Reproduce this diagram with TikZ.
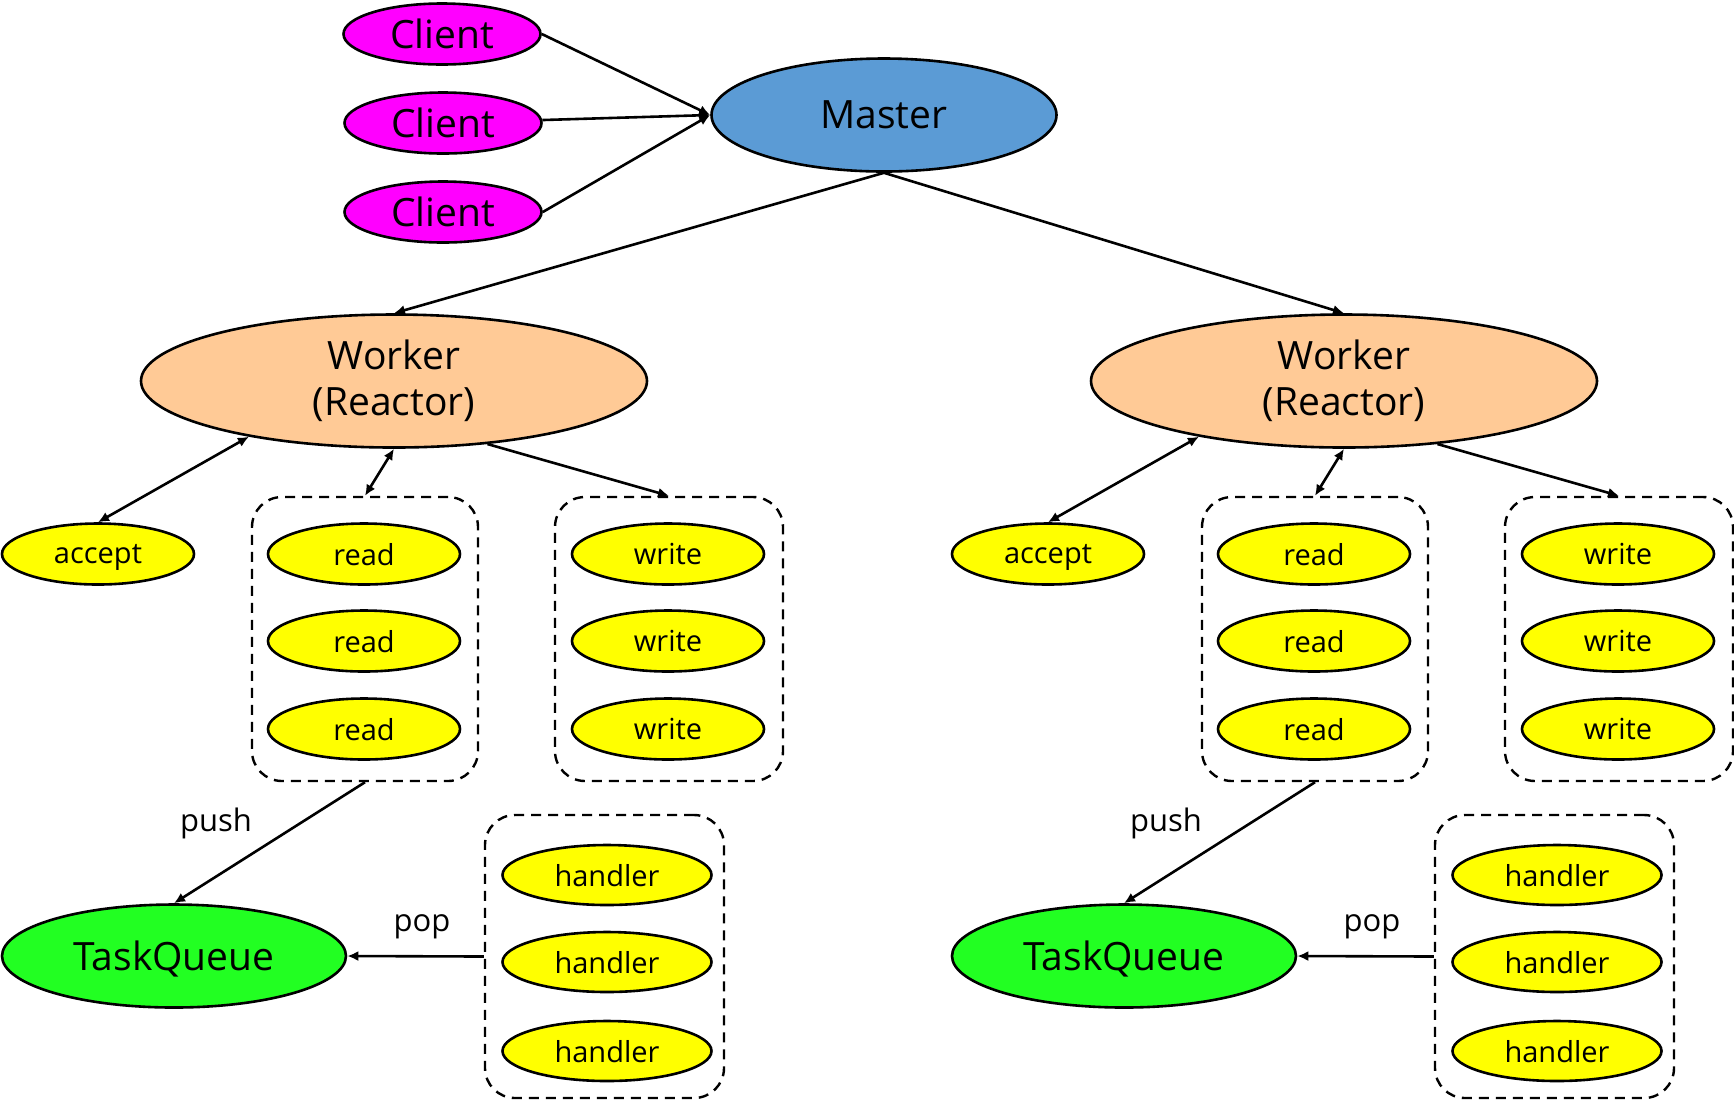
\documentclass[tikz,border=0pt]{standalone}
\usepackage{fontspec}
\setmainfont{Open Sans}
\usetikzlibrary{shapes.geometric,arrows.meta}
\definecolor{cmag}{HTML}{FF00FF}
\definecolor{cmaster}{HTML}{5B9BD5}
\definecolor{cworker}{HTML}{FFCA96}
\definecolor{cyel}{HTML}{FFFF00}
\definecolor{cgreen}{HTML}{22FF22}
\tikzset{
  base/.style={ellipse, draw=black, line width=1.3pt, inner sep=0pt},
  client/.style={base, fill=cmag, minimum width=98.5pt, minimum height=30.5pt, font=\fontsize{19.5}{22}\selectfont},
  masternode/.style={base, fill=cmaster, minimum width=172.5pt, minimum height=56.5pt, font=\fontsize{19.5}{22}\selectfont},
  worker/.style={base, fill=cworker, minimum width=253pt, minimum height=66.5pt, align=center, font=\fontsize{19.5}{23}\selectfont},
  small/.style={base, fill=cyel, minimum width=96pt, minimum height=30.5pt, text depth=0pt, font=\fontsize{14.5}{16}\selectfont},
  hand/.style={base, fill=cyel, minimum width=104.5pt, minimum height=30pt, text depth=0pt, font=\fontsize{14.5}{16}\selectfont},
  tq/.style={base, fill=cgreen, minimum width=172pt, minimum height=51.5pt, text depth=0pt, font=\fontsize{19.5}{22}\selectfont},
  dbox/.style={draw=black, line width=1.2pt, dash pattern=on 5pt off 3.5pt, rounded corners=15pt, rectangle, inner sep=0pt},
  lbl/.style={inner sep=0pt, font=\fontsize{15.5}{17}\selectfont},
  conn/.style={line width=1.3pt, -{Latex[length=5.5pt,width=5pt]}},
  dconn/.style={line width=1.3pt, {Latex[length=5.5pt,width=5pt]}-{Latex[length=5.5pt,width=5pt]}}
}
\begin{document}
\begin{tikzpicture}[x=0.5pt,y=-0.5pt]
\useasboundingbox (0,0) rectangle (1734,1100);
\node[client] (c1) at (442,34) {Client};
\node[client] (c2) at (443,123) {Client};
\node[client] (c3) at (443,212) {Client};
\node[masternode] (m) at (884,115) {Master};
\draw[conn] (c1.east) -- (m.west);
\draw[conn] (c2) -- (m.west);
\draw[conn] (c3.east) -- (m.west);
\foreach \s/\dx in {L/0, R/950}{
  \node[worker] (w\s) at (394+\dx,381) {Worker\\(Reactor)};
  \node[small] (acc\s) at (98+\dx,554) {accept};
  \node[dbox, minimum width=113pt, minimum height=142pt] (rb\s) at (365+\dx,639) {};
  \node[dbox, minimum width=114pt, minimum height=142pt] (wb\s) at (669+\dx,639) {};
  \node[small] (r1\s) at (364+\dx,554) {read};
  \node[small] (r2\s) at (364+\dx,641) {read};
  \node[small] (r3\s) at (364+\dx,729) {read};
  \node[small] (wr1\s) at (668+\dx,554) {write};
  \node[small] (wr2\s) at (668+\dx,641) {write};
  \node[small] (wr3\s) at (668+\dx,729) {write};
  \node[tq] (tq\s) at (174+\dx,956) {TaskQueue};
  \node[dbox, minimum width=119.5pt, minimum height=141.5pt] (hb\s) at (604.5+\dx,956.5) {};
  \node[hand] (h1\s) at (607+\dx,875) {handler};
  \node[hand] (h2\s) at (607+\dx,962) {handler};
  \node[hand] (h3\s) at (607+\dx,1051) {handler};
  \node[lbl] (push\s) at (216+\dx,823) {push};
  \node[lbl] (pop\s) at (422+\dx,927) {pop};
  \draw[conn] (m.south) -- (w\s.north);
  \draw[dconn] (acc\s.north) -- (w\s.201);
  \draw[dconn] (rb\s.north) -- (w\s.south);
  \draw[conn] (w\s.-34) -- (wb\s.north);
  \draw[conn] (rb\s.south) -- (tq\s.north);
  \draw[conn] (hb\s.west) -- (tq\s.east);
}
\end{tikzpicture}
\end{document}
